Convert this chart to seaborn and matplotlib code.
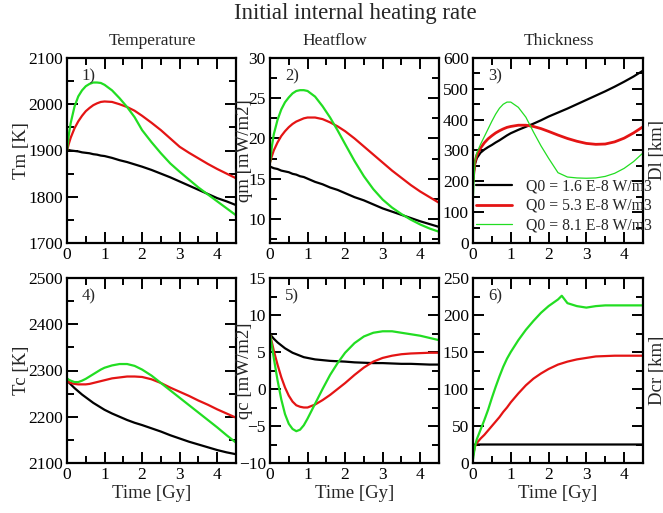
import matplotlib
matplotlib.use("Agg")
import matplotlib.pyplot as plt
import seaborn as sns
import pandas as pd
from matplotlib.ticker import MultipleLocator

# ---------------- data ----------------
T = [0, 0.05, 0.1, 0.2, 0.3, 0.4, 0.5, 0.6, 0.7, 0.8, 0.9, 1.0, 1.2, 1.4, 1.6,
     1.8, 2.0, 2.25, 2.5, 2.75, 3.0, 3.25, 3.5, 3.75, 4.0, 4.25, 4.5]

SERIES = ["Q0 = 1.6 E-8 W/m3", "Q0 = 5.3 E-8 W/m3", "Q0 = 8.1 E-8 W/m3"]

# 1) mantle temperature Tm [K]
tm_black = [1901, 1901, 1900, 1899, 1898, 1896, 1895, 1894, 1892, 1891, 1889, 1888, 1884, 1879, 1875,
            1870, 1865, 1858, 1850, 1842, 1833, 1824, 1815, 1806, 1797, 1790, 1782]
tm_red = [1900, 1915, 1928, 1948, 1963, 1975, 1985, 1992, 1998, 2002, 2005, 2006, 2005, 2000, 1994,
          1986, 1975, 1960, 1944, 1926, 1908, 1895, 1883, 1871, 1860, 1850, 1840]
tm_green = [1900, 1935, 1960, 1995, 2017, 2030, 2039, 2044, 2047, 2047, 2046, 2042, 2030, 2013, 1994,
            1972, 1944, 1918, 1894, 1872, 1854, 1837, 1820, 1805, 1790, 1775, 1760]

# 2) mantle heat flow qm [mW/m2]
qm_black = [16.5, 16.4, 16.3, 16.2, 16.0, 15.9, 15.8, 15.6, 15.5, 15.3, 15.2, 15.0, 14.6, 14.3, 13.9,
            13.6, 13.2, 12.7, 12.3, 11.8, 11.3, 10.9, 10.5, 10.1, 9.7, 9.35, 9.0]
qm_red = [17.0, 17.8, 18.5, 19.5, 20.3, 20.9, 21.4, 21.8, 22.1, 22.3, 22.5, 22.6, 22.6, 22.4, 22.0,
          21.5, 20.9, 20.0, 19.0, 18.0, 17.0, 16.0, 15.1, 14.2, 13.4, 12.7, 12.0]
qm_green = [17.0, 19.0, 20.5, 22.3, 23.6, 24.5, 25.1, 25.6, 25.9, 26.0, 26.0, 25.9, 25.2, 24.0, 22.6,
            21.0, 19.3, 17.2, 15.3, 13.7, 12.4, 11.4, 10.6, 9.9, 9.3, 8.8, 8.4]

# 3) lithosphere thickness Dl [km]
dl_black = [210, 255, 275, 293, 303, 311, 318, 326, 333, 341, 349, 356, 367, 377, 387,
            398, 410, 423, 436, 450, 464, 478, 492, 507, 523, 540, 559]
dl_red = [200, 262, 285, 308, 325, 338, 348, 357, 364, 370, 375, 378, 382, 382, 378,
          371, 362, 350, 339, 330, 323, 320, 321, 328, 340, 357, 377]
dl_green = [120, 265, 292, 320, 345, 370, 395, 418, 437, 450, 457, 457, 440, 408, 360,
            315, 275, 228, 214, 211, 210, 211, 216, 226, 242, 264, 292]

# 4) core temperature Tc [K]
tc_black = [2278, 2274, 2270, 2262, 2255, 2248, 2242, 2236, 2230, 2225, 2220, 2215, 2207, 2200, 2193,
            2187, 2182, 2175, 2168, 2160, 2153, 2146, 2140, 2134, 2128, 2123, 2119]
tc_red = [2278, 2275, 2273, 2271, 2270, 2270, 2270, 2271, 2273, 2275, 2277, 2279, 2283, 2285, 2287,
          2287, 2286, 2281, 2273, 2263, 2254, 2245, 2235, 2226, 2216, 2207, 2198]
tc_green = [2283, 2280, 2278, 2275, 2275, 2278, 2282, 2287, 2292, 2297, 2302, 2306, 2311, 2314, 2314,
            2310, 2302, 2289, 2273, 2257, 2241, 2225, 2209, 2193, 2177, 2160, 2144]

# 5) core heat flow qc [mW/m2]
qc_black = [7.4, 7.1, 6.8, 6.3, 5.9, 5.5, 5.2, 4.9, 4.7, 4.5, 4.3, 4.2, 4.0, 3.9, 3.8,
            3.75, 3.7, 3.6, 3.55, 3.5, 3.5, 3.45, 3.4, 3.4, 3.35, 3.3, 3.3]
qc_red = [7.4, 6.3, 5.2, 3.3, 1.6, 0.2, -0.9, -1.7, -2.2, -2.4, -2.5, -2.5, -2.1, -1.5, -0.8,
          0.0, 0.8, 1.9, 2.9, 3.7, 4.2, 4.5, 4.7, 4.8, 4.85, 4.9, 4.9]
qc_green = [7.4, 5.8, 4.2, 1.2, -1.4, -3.4, -4.7, -5.4, -5.7, -5.5, -4.9, -4.0, -2.0, 0.0, 1.9,
            3.5, 4.9, 6.2, 7.1, 7.6, 7.8, 7.8, 7.6, 7.4, 7.2, 6.9, 6.6]

# 6) crust thickness Dcr [km]
dcr_black = [22, 25, 25, 25, 25, 25, 25, 25, 25, 25, 25, 25, 25, 25, 25,
             25, 25, 25, 25, 25, 25, 25, 25, 25, 25, 25, 25]
dcr_red = [10, 22, 27, 33, 38, 44, 50, 56, 62, 69, 75, 82, 94, 105, 114,
           121, 127, 133, 137, 140, 142, 144, 144.5, 145, 145, 145, 145]
T_DCR_GREEN = [0, 0.05, 0.1, 0.2, 0.3, 0.4, 0.5, 0.6, 0.7, 0.8, 0.9, 1.0, 1.2, 1.4, 1.6,
               1.8, 2.0, 2.25, 2.35, 2.5, 2.75, 3.0, 3.25, 3.5, 3.75, 4.0, 4.25, 4.5]
dcr_green = [5, 22, 32, 45, 58, 72, 88, 103, 117, 130, 141, 150, 166, 180, 192,
             203, 212, 221, 226, 216, 212, 210, 212, 213, 213, 213, 213, 213]

TITLE = "Initial internal heating rate"
SUBTITLES = ["Temperature", "Heatflow", "Thickness"]
YLABELS = ["Tm [K]", "qm [mW/m2]", "Dl [km]", "Tc [K]", "qc [mW/m2]", "Dcr [km]"]
TAGS = ["1)", "2)", "3)", "4)", "5)", "6)"]
XLABEL = "Time [Gy]"

# ---------------- style ----------------
sns.set_style("ticks")
plt.rcParams["font.family"] = ["Liberation Serif", "DejaVu Serif"]

COLORS = ["#000000", "#e41414", "#22dd22"]

fig = plt.figure(figsize=(6.63, 5.13), dpi=100)
W, H = 663.0, 513.0
lefts = [67, 270, 473]
rights = [236, 439, 643]
tops = [58, 278]
bottoms = [243, 463]

panels = [
    (T, [tm_black, tm_red, tm_green], (1700, 2100), 100, 50),
    (T, [qm_black, qm_red, qm_green], (7, 30), 5, 2.5),
    (T, [dl_black, dl_red, dl_green], (0, 600), 100, 50),
    (T, [tc_black, tc_red, tc_green], (2100, 2500), 100, 50),
    (T, [qc_black, qc_red, qc_green], (-10, 15), 5, 2.5),
    (T, [dcr_black, dcr_red, dcr_green], (0, 250), 50, 25),
]

axes = []
for i, (t, series, ylim, major, minor) in enumerate(panels):
    r, c = divmod(i, 3)
    ax = fig.add_axes([lefts[c] / W, 1 - bottoms[r] / H,
                       (rights[c] - lefts[c]) / W, (bottoms[r] - tops[r]) / H])
    axes.append(ax)
    for k, y in enumerate(series):
        tt = t
        if i == 5 and k == 2:
            tt = T_DCR_GREEN
        lw = 1.6
        if i == 2 and k == 2:
            lw = 0.9
        if i == 2 and k == 1:
            lw = 2.0
        df = pd.DataFrame({"time": tt, "value": y})
        sns.lineplot(data=df, x="time", y="value", ax=ax, color=COLORS[k],
                     lw=lw, label=SERIES[k], legend=False, estimator=None, sort=False)
    ax.set_xlim(0, 4.5)
    ax.set_ylim(*ylim)
    ax.xaxis.set_major_locator(MultipleLocator(1))
    ax.xaxis.set_minor_locator(MultipleLocator(0.5))
    ax.yaxis.set_major_locator(MultipleLocator(major))
    ax.yaxis.set_minor_locator(MultipleLocator(minor))
    ax.tick_params(which="both", direction="in", top=True, right=True,
                   labelsize=12.5, width=1.4, colors="black", pad=3)
    ax.tick_params(which="major", length=8)
    ax.tick_params(which="minor", length=5)
    for s in ax.spines.values():
        s.set_linewidth(1.6)
        s.set_color("black")
    ax.set_xlabel("")
    ax.set_ylabel("")
    ax.text(0.13, 0.90, TAGS[i], transform=ax.transAxes, ha="center", va="center",
            fontsize=12)
    if r == 1:
        ax.set_xlabel(XLABEL, fontsize=13.5)
        ax.xaxis.set_label_coords(0.5, -30 / 185)
        ax.xaxis.label.set_va("center")
    if c < 2:
        ax.set_ylabel(YLABELS[i], fontsize=13.5)
        xc = -0.27 if c == 0 else -0.148
        ax.yaxis.set_label_coords(xc, 0.5)
        ax.yaxis.label.set_va("center")
    else:
        ax.text(1.035, 0.5, YLABELS[i], transform=ax.transAxes, rotation=90,
                ha="left", va="center", fontsize=13.5)

# legend in panel 3
h, l = axes[2].get_legend_handles_labels()
axes[2].legend(h, l, loc="center left", bbox_to_anchor=(0.015, 0.2),
               frameon=False, fontsize=11.3, handlelength=2.3, handletextpad=0.9,
               labelspacing=0.25, borderpad=0, borderaxespad=0)

fig.text(355 / W, 1 - 14 / H, TITLE, ha="center", va="center", fontsize=16.5)
for x, s in zip([152, 335, 559], SUBTITLES):
    fig.text(x / W, 1 - 41 / H, s, ha="center", va="center", fontsize=12.5)

fig.savefig("out.png", dpi=100, facecolor="white")
